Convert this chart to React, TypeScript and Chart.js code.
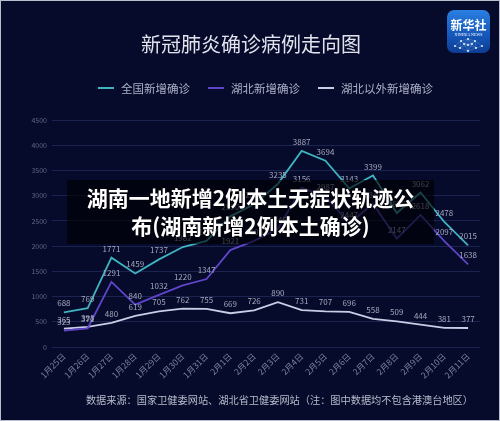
import React, { useEffect, useRef } from "react";
import { Chart, registerables } from "chart.js";

Chart.register(...registerables);

const categories = [
  "1月25日", "1月26日", "1月27日", "1月28日", "1月29日", "1月30日", "1月31日",
  "2月1日", "2月2日", "2月3日", "2月4日", "2月5日", "2月6日", "2月7日",
  "2月8日", "2月9日", "2月10日", "2月11日",
];
const nationalNew = [688, 769, 1771, 1459, 1737, 1982, 2102, 2590, 2829, 3235, 3887, 3694, 3143, 3399, 2656, 3062, 2478, 2015];
const hubeiNew = [323, 371, 1291, 840, 1032, 1220, 1347, 1921, 2103, 2345, 3156, 2987, 2447, 2841, 2147, 2618, 2097, 1638];
const outsideHubeiNew = [365, 398, 480, 619, 705, 762, 755, 669, 726, 890, 731, 707, 696, 558, 509, 444, 381, 377];
const seriesNames = ["全国新增确诊", "湖北新增确诊", "湖北以外新增确诊"];
const seriesColors = ["#3fb3bf", "#5e45c9", "#c9cde6"];
const yTicks = [0, 500, 1000, 1500, 2000, 2500, 3000, 3500, 4000, 4500];

const FONT = '"Noto Sans CJK SC", "Noto Sans", sans-serif';

const labelPlugin = {
  id: "pointLabels",
  afterDatasetsDraw(chart: any) {
    const ctx = chart.ctx;
    ctx.save();
    ctx.font = `8px ${FONT}`;
    ctx.fillStyle = "#a3a8bd";
    ctx.textAlign = "center";
    ctx.textBaseline = "bottom";
    chart.data.datasets.forEach((ds: any, i: number) => {
      const meta = chart.getDatasetMeta(i);
      meta.data.forEach((pt: any, j: number) => {
        ctx.fillText(String(ds.data[j]), pt.x, pt.y - 5);
      });
    });
    ctx.restore();
  },
};

function Logo() {
  const nodes = [[8, 36], [14, 31], [21, 29], [28, 31], [35, 36], [13, 38], [21, 35], [29, 38], [21, 41], [17, 34], [25, 34]];
  return (
    <div style={{ position: "absolute", left: 446, top: 9, width: 43, height: 43, borderRadius: 7, overflow: "hidden", background: "linear-gradient(180deg, #2a7fe0 0%, #1659bd 55%, #0d3d92 100%)", color: "#fff", textAlign: "center" }}>
      <svg width={43} height={43} style={{ position: "absolute", left: 0, top: 0 }}>
        {nodes.map((a, i) => nodes.slice(i + 1).filter((b) => Math.hypot(a[0] - b[0], a[1] - b[1]) < 9).map((b, k) => (
          <line key={i + "-" + k} x1={a[0]} y1={a[1]} x2={b[0]} y2={b[1]} stroke="rgba(180,220,255,0.45)" strokeWidth={0.5} />
        )))}
        {nodes.map((a, i) => <circle key={i} cx={a[0]} cy={a[1]} r={1} fill="#e6f2ff" />)}
      </svg>
      <div style={{ position: "relative", fontSize: 12, fontWeight: 700, lineHeight: "13px", marginTop: 8, letterSpacing: 0 }}>新华社</div>
      <div style={{ position: "relative", fontSize: 4, lineHeight: "5px", marginTop: 1, fontFamily: "Liberation Serif, serif" }}>XINHUA NEWS</div>
    </div>
  );
}

export default function App() {
  const ref = useRef<HTMLCanvasElement>(null);
  useEffect(() => {
    document.body.style.margin = "0";
    const data = [nationalNew, hubeiNew, outsideHubeiNew];
    const chart = new Chart(ref.current!, {
      type: "line",
      data: {
        labels: categories,
        datasets: data.map((d, i) => ({
          label: seriesNames[i],
          data: d,
          borderColor: seriesColors[i],
          backgroundColor: seriesColors[i],
          borderWidth: 1.8,
          pointRadius: 0,
          tension: 0,
        })),
      },
      options: {
        responsive: false,
        animation: false,
        layout: { padding: { top: 120, right: 20, left: 0, bottom: 0 } },
        plugins: { legend: { display: false }, tooltip: { enabled: false }, title: { display: false } },
        scales: {
          x: {
            offset: true,
            grid: { display: false, drawTicks: false },
            border: { display: false },
            ticks: {
              color: "#7b82a3",
              font: { family: FONT, size: 8.5 },
              minRotation: 45,
              maxRotation: 45,
              autoSkip: false,
              padding: 4,
            },
            afterFit: (s: any) => { s.height = 74; },
          },
          y: {
            min: 0,
            max: 4500,
            afterBuildTicks: (s: any) => { s.ticks = yTicks.map((v) => ({ value: v })); },
            grid: { color: "#1b2350", lineWidth: 1, drawTicks: false },
            border: { display: false },
            ticks: {
              color: "#5f6689",
              font: { family: FONT, size: 7 },
              padding: 5,
              callback: (v: any) => String(v),
            },
            afterFit: (s: any) => { s.width = 52; },
          },
        },
      },
      plugins: [labelPlugin],
    });
    return () => chart.destroy();
  }, []);

  return (
    <div style={{ position: "fixed", left: 0, top: 0, width: 500, height: 421, background: "#060a2b", overflow: "hidden", fontFamily: FONT, boxSizing: "border-box", border: "1px solid #b9bdcc" }}>
      <canvas ref={ref} width={500} height={421} style={{ position: "absolute", left: -1, top: -1 }} />
      <div style={{ position: "absolute", left: 0, width: 500, top: 29, textAlign: "center", color: "#e1e3ec", fontSize: 20, lineHeight: "28px" }}>新冠肺炎确诊病例走向图</div>
      {seriesNames.map((n, i) => (
        <div key={n} style={{ position: "absolute", top: 79, left: [97, 207, 317][i], display: "flex", alignItems: "center", height: 16, color: "#aeb2c6", fontSize: 11.5 }}>
          <span style={{ display: "inline-block", width: 16, height: 2, background: seriesColors[i], marginRight: 7 }} />
          <span>{n}</span>
        </div>
      ))}
      <div style={{ position: "absolute", right: 26, top: 391, color: "#b7bbc9", fontSize: 10.2, lineHeight: "16px", whiteSpace: "nowrap" }}>
        数据来源：国家卫健委网站、湖北省卫健委网站（注：图中数据均不包含港澳台地区）
      </div>
      <Logo />
      <div style={{ position: "absolute", left: 66, top: 179, width: 367, height: 64, background: "rgba(0,0,0,0.62)", color: "#fff", fontWeight: 700, fontSize: 21, lineHeight: "28px", textAlign: "center", paddingTop: 3, boxSizing: "border-box", textShadow: "0 0 2px #000" }}>
        <div>湖南一地新增2例本土无症状轨迹公</div>
        <div>布(湖南新增2例本土确诊)</div>
      </div>
    </div>
  );
}
